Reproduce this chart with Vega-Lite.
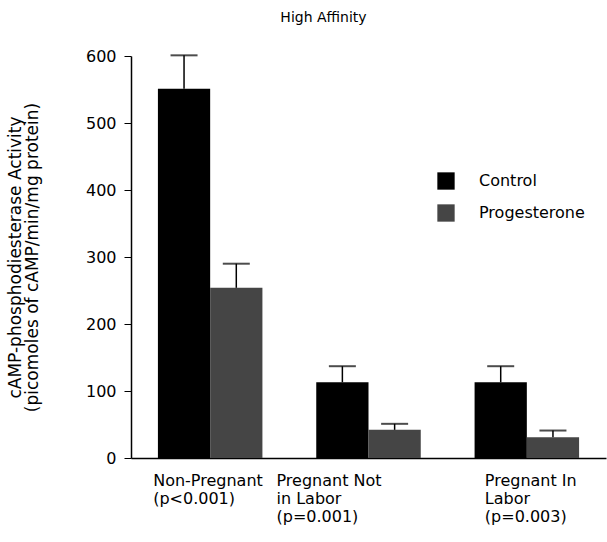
{
  "$schema": "https://vega.github.io/schema/vega-lite/v6.json",
  "autosize": {"type": "none"},
  "padding": {"left": 131, "top": 56, "right": 1, "bottom": 84},
  "width": 475,
  "height": 402,
  "background": "white",
  "title": {"text": "High Affinity", "font": "DejaVu Sans", "fontSize": 14, "fontWeight": "normal", "color": "black", "anchor": "middle", "dx": -45, "offset": 23},
  "data": {"values": [
    {"group": "Non-Pregnant|(p<0.001)", "treatment": "Control", "value": 551, "upper": 601},
    {"group": "Non-Pregnant|(p<0.001)", "treatment": "Progesterone", "value": 254, "upper": 290},
    {"group": "Pregnant Not|in Labor|(p=0.001)", "treatment": "Control", "value": 113, "upper": 137},
    {"group": "Pregnant Not|in Labor|(p=0.001)", "treatment": "Progesterone", "value": 42, "upper": 51},
    {"group": "Pregnant In|Labor|(p=0.003)", "treatment": "Control", "value": 113, "upper": 137},
    {"group": "Pregnant In|Labor|(p=0.003)", "treatment": "Progesterone", "value": 31, "upper": 41}
  ]},
  "encoding": {
    "x": {
      "field": "group", "type": "nominal", "sort": null,
      "scale": {"paddingInner": 0.34, "paddingOuter": 0.17},
      "axis": {
        "title": null, "labelAngle": 0, "ticks": false, "domainColor": "black", "domainWidth": 1.5,
        "labelExpr": "split(datum.label, '|')",
        "labelAlign": "left", "labelBaseline": "top",
        "labelOffset": {"condition": [
          {"test": "indexof(datum.value, 'Not') >= 0", "value": -92},
          {"test": "indexof(datum.value, 'In|') >= 0", "value": -42}
        ], "value": -57},
        "labelFont": "DejaVu Sans", "labelFontSize": 16, "labelLineHeight": 18, "labelPadding": 14, "labelColor": "black"
      }
    },
    "xOffset": {"field": "treatment", "type": "nominal", "scale": {"paddingInner": 0}}
  },
  "layer": [
    {
      "mark": {"type": "bar"},
      "encoding": {
        "y": {
          "field": "value", "type": "quantitative",
          "scale": {"domain": [0, 600], "nice": false},
          "axis": {
            "values": [0, 50, 100, 150, 200, 250, 300, 350, 400, 450, 500, 550, 600],
            "labelExpr": "datum.value % 100 == 0 ? datum.label : ''",
            "tickSize": {"condition": {"test": "datum.value % 100 != 0", "value": 3}, "value": 7},
            "tickColor": "black", "domainColor": "black", "domainWidth": 1.5, "grid": false,
            "labelFont": "DejaVu Sans", "labelFontSize": 16, "labelPadding": 8, "labelColor": "black",
            "title": ["cAMP-phosphodiesterase Activity", "(picomoles of cAMP/min/mg protein)"],
            "titleFont": "DejaVu Sans", "titleFontSize": 17, "titleFontWeight": "normal", "titleColor": "black",
            "titleLineHeight": 17, "titlePadding": 44
          }
        },
        "color": {
          "field": "treatment", "type": "nominal",
          "scale": {"domain": ["Control", "Progesterone"], "range": ["#000000", "#454545"]},
          "legend": {
            "title": null, "orient": "none", "legendX": 306, "legendY": 116,
            "symbolType": "square", "symbolSize": 300, "symbolStrokeWidth": 0, "symbolOpacity": 1,
            "labelFont": "DejaVu Sans", "labelFontSize": 16, "labelColor": "black", "labelOffset": 24, "rowPadding": 14
          }
        }
      }
    },
    {
      "mark": {"type": "rule", "color": "black", "strokeWidth": 1.5},
      "encoding": {"y": {"field": "value", "type": "quantitative"}, "y2": {"field": "upper"}}
    },
    {
      "mark": {"type": "tick", "color": "black", "thickness": 2, "size": 27},
      "encoding": {"y": {"field": "upper", "type": "quantitative"}}
    }
  ],
  "config": {"view": {"stroke": null}}
}
